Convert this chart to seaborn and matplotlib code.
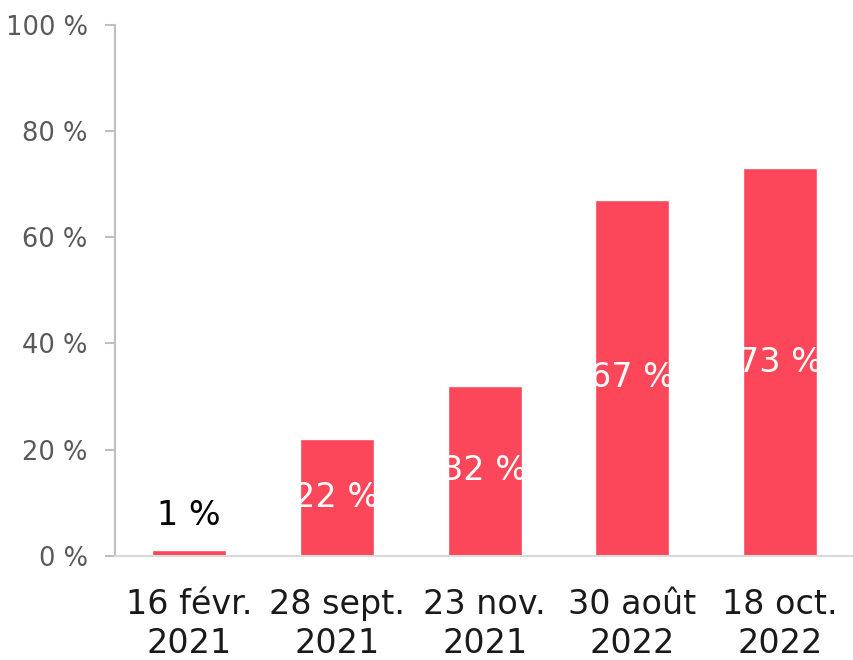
import matplotlib
matplotlib.use("Agg")
import matplotlib.pyplot as plt
import seaborn as sns
import pandas as pd

dates = ["16 févr.\n2021", "28 sept.\n2021", "23 nov.\n2021", "30 août\n2022", "18 oct.\n2022"]
values = [1, 22, 32, 67, 73]

df = pd.DataFrame({"date": dates, "pct": values})

sns.set_theme(style="white")
plt.rcParams['font.family'] = ['DejaVu Sans']

fig = plt.figure(figsize=(8.54, 6.6), dpi=100)
ax = fig.add_axes([0.135, 0.158, 0.865, 0.804])

sns.barplot(data=df, x="date", y="pct", color="#FC4659", saturation=1,
            width=0.5, ax=ax)

ax.set_ylim(0, 100)
ax.set_xlim(-0.5, 4.5)
ax.set_yticks(range(0, 101, 20))
ax.set_yticklabels([f"{v} %" for v in range(0, 101, 20)])
ax.set_xlabel("")
ax.set_ylabel("")

# data labels: white in the middle of the bar, black above the tiny one
for i, v in enumerate(values):
    if v < 10:
        ax.annotate(f"{v} %", (i, v), xytext=(0, 13), textcoords="offset points",
                    ha="center", va="bottom", fontsize=24, color="#000000")
    else:
        ax.text(i, v / 2, f"{v} %", ha="center", va="center",
                fontsize=24, color="white")

for side in ["top", "right"]:
    ax.spines[side].set_visible(False)
ax.spines["left"].set_color("#BFBFBF")
ax.spines["bottom"].set_color("#D9D9D9")
ax.spines["left"].set_linewidth(1.5)
ax.spines["bottom"].set_linewidth(1.5)

ax.tick_params(axis="y", left=True, length=7, width=1.5, color="#BFBFBF",
               labelsize=18.5, labelcolor="#595959", pad=13)
ax.tick_params(axis="x", bottom=False, labelsize=24, labelcolor="#1A1A1A", pad=17)
for lab in ax.get_xticklabels():
    lab.set_linespacing(1.25)

fig.savefig("out.png", dpi=100)
